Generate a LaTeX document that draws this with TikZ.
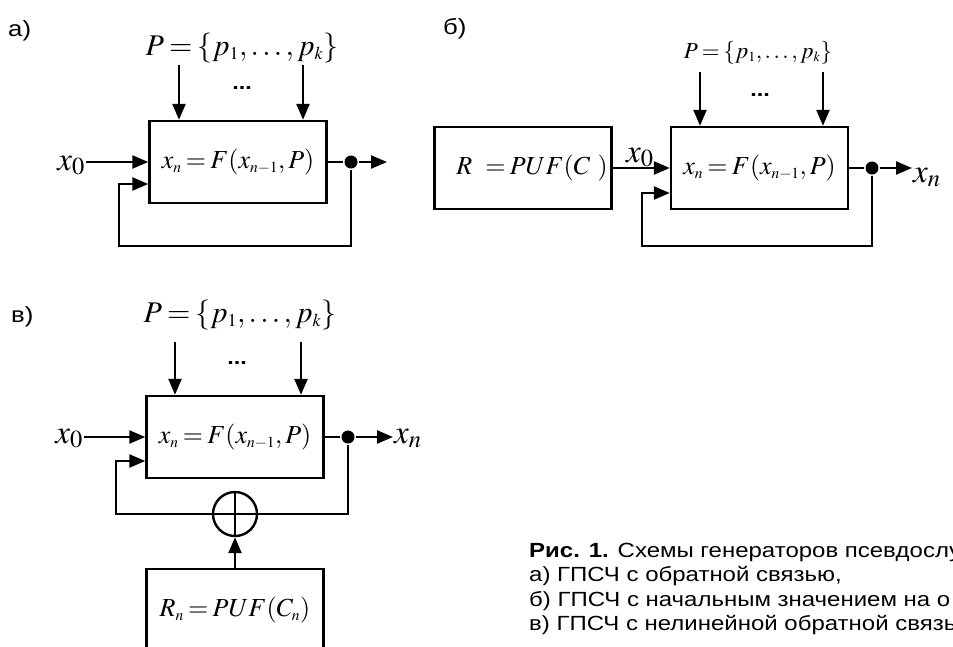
\documentclass[tikz,border=0pt]{standalone}
\usepackage{mathptmx}
\usepackage[no-math]{fontspec}
\newfontfamily\capfont[FakeStretch=1.17]{Liberation Sans}
\usetikzlibrary{arrows.meta,positioning,calc}
\thickmuskip=3mu plus 3mu
\DeclareMathSizes{26}{26}{15.5}{12}
\DeclareMathSizes{30}{30}{18}{14}
\DeclareMathSizes{23}{23}{14}{11}

\begin{document}
\begin{tikzpicture}[x=1pt,y=-1pt,>={Triangle[length=16pt,width=13pt]},line width=2.4pt,
  blk/.style={draw,minimum width=177pt,minimum height=82pt,inner sep=0pt,font=\fontsize{26}{26}\selectfont},
  junc/.style={circle,fill,inner sep=0pt,minimum size=13pt},
  sumc/.style={circle,draw,inner sep=0pt,minimum size=44pt},
  panel/.style={anchor=base west,inner sep=0pt,font=\capfont\fontsize{22}{26}\selectfont},
  captxt/.style={anchor=base west,inner sep=0pt,font=\capfont\fontsize{20.5}{24}\selectfont},
  etc/.style={inner sep=0pt,font=\capfont\bfseries\fontsize{20}{24}\selectfont},
  sig/.style={inner sep=0pt,font=\fontsize{33}{33}\selectfont},
  plabel/.style={anchor=base,inner sep=0pt,font=\fontsize{30}{30}\selectfont}]
\useasboundingbox (0,0) rectangle (953,646);
\clip (0,0) rectangle (953,646);

% a)
\node[panel] (ta) at (7,36) {а)};
\node[plabel] (Pa) at (242,55) {$P=\{p_1,\ldots,p_k\}$};
\node[blk] (Fa) at (238,162) {$x_n = F(x_{n-1},P)$};
\node[sig,anchor=base east] (x0a) at (86,170) {$x_0$};
\node[etc] (dta) at (242,88) {...};
\node[junc] (da) at (351,162) {};
\coordinate (oa) at (387,162);
\coordinate (pa1) at (179,65);\coordinate (pa2) at (303,65);
\draw[->] (pa1) -- (pa1|-Fa.north);\draw[->] (pa2) -- (pa2|-Fa.north);
\draw[->] (x0a.east|-Fa.west) -- (Fa.west);
\draw (Fa.east) -- (da);\draw[->] (da) -- (oa);
\draw[->] (da) -- (da|-0,246) -| (119,184) -- (Fa.west|-0,184);

% b)
\node[panel] (tb) at (442,34) {б)};
\node[plabel,font=\fontsize{23}{23}\selectfont] (Pb) at (758,58) {$P=\{p_1,\ldots,p_k\}$};
\node[blk] (Rb) at (523,168) {\hspace*{18pt}$R\;\;=PUF(C\;\,)$};
\node[blk] (Fb) at (759.5,168) {$x_n = F(x_{n-1},P)$};
\node[etc] (dtb) at (760,95) {...};
\node[sig,anchor=base west] (x0b) at (625,162) {$x_0$};
\node[junc] (db) at (872,168) {};
\node[sig,anchor=base west] (xnb) at (912,182) {$x_n$};
\coordinate (pb1) at (700,72);\coordinate (pb2) at (823,72);
\draw[->] (pb1) -- (pb1|-Fb.north);\draw[->] (pb2) -- (pb2|-Fb.north);
\draw[->] (Rb) -- (Fb);
\draw (Fb.east) -- (db);\draw[->] (db) -- (xnb.west|-db);
\draw[->] (db) -- (db|-0,246) -| (642,193) -- (Fb.west|-0,193);

% v)
\node[panel] (tc) at (10,322) {в)};
\node[plabel] (Pc) at (240,322) {$P=\{p_1,\ldots,p_k\}$};
\node[blk] (Fc) at (235,437) {$x_n = F(x_{n-1},P)$};
\node[sig,anchor=base east] (x0c) at (84,443) {$x_0$};
\node[etc] (dtc) at (237,363) {...};
\node[junc] (dc) at (348,437) {};
\node[sig,anchor=base west] (xnc) at (393,443) {$x_n$};
\node[sumc] (sum) at (235,514) {};
\node[blk] (Rc) at (235,610) {$R_n = PUF(C_n)$};
\coordinate (pc1) at (175,342);\coordinate (pc2) at (301,342);
\draw[->] (pc1) -- (pc1|-Fc.north);\draw[->] (pc2) -- (pc2|-Fc.north);
\draw[->] (x0c.east|-Fc.west) -- (Fc.west);
\draw (Fc.east) -- (dc);\draw[->] (dc) -- (xnc.west|-dc);
\draw (dc) |- (sum.east);
\draw[->] (sum.west) -| (116,461) -- (Fc.west|-0,461);
\draw (sum.west) -- (sum.east) (sum.north) -- (sum.south);
\draw[->] (Rc) -- (sum);

% caption
\node[captxt] (c1) at (528,557) {\textbf{Рис. 1.} Схемы генераторов псевдослу};
\node[captxt] (c2) at (528,581) {а) ГПСЧ с обратной связью,};
\node[captxt] (c3) at (528,606) {б) ГПСЧ с начальным значением на о};
\node[captxt] (c4) at (528,630) {в) ГПСЧ с нелинейной обратной связь};
\end{tikzpicture}
\end{document}
